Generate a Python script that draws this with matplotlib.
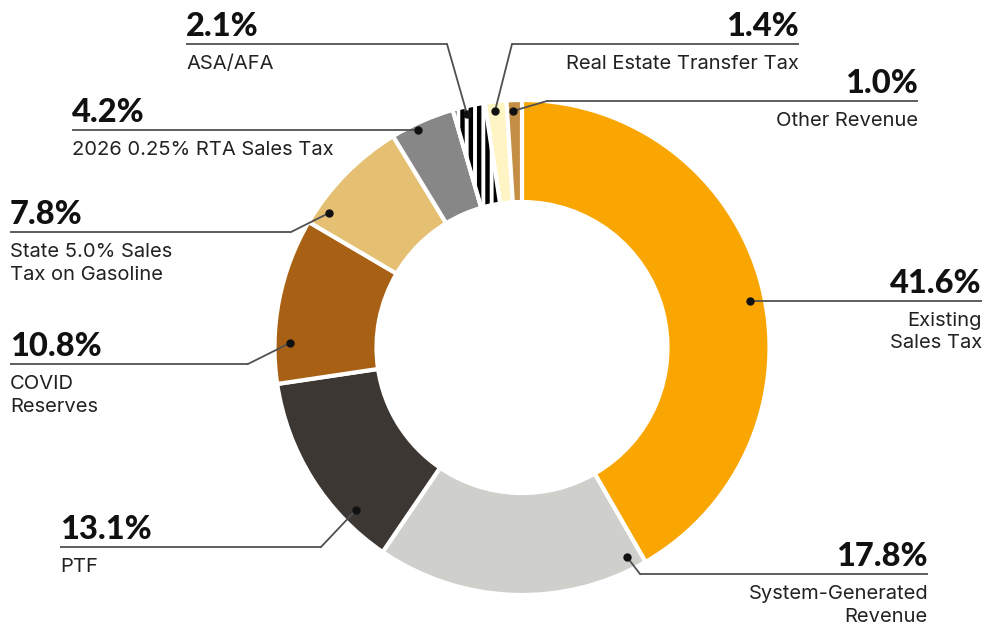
import matplotlib
matplotlib.use("Agg")
import matplotlib.pyplot as plt
from matplotlib.patches import Wedge
import numpy as np

categories = ["Existing\nSales Tax", "System-Generated\nRevenue", "PTF", "COVID\nReserves",
              "State 5.0% Sales\nTax on Gasoline", "2026 0.25% RTA Sales Tax", "ASA/AFA",
              "Real Estate Transfer Tax", "Other Revenue"]
values = [41.6, 17.8, 13.1, 10.8, 7.8, 4.2, 2.1, 1.4, 1.0]
pct_labels = ["41.6%", "17.8%", "13.1%", "10.8%", "7.8%", "4.2%", "2.1%", "1.4%", "1.0%"]
colors = ["#F9A602", "#CFCFCB", "#3D3733", "#A86114", "#E5C073", "#878787", "#FFFFFF",
          "#FFF4C4", "#C48E45"]

W, H = 991, 626
plt.rcParams['hatch.linewidth'] = 3.2
fig = plt.figure(figsize=(W / 100, H / 100), dpi=100)
ax = fig.add_axes([0, 0, 1, 1])

def Y(y):
    return H - y

CX, CY, R = 522, Y(347.5), 247.5
RING = 102

wedges, _ = ax.pie(values, colors=colors, startangle=90, counterclock=False,
                   center=(CX, CY), radius=R,
                   wedgeprops=dict(width=RING, edgecolor="white", linewidth=3))
# hatch for ASA/AFA
w = wedges[6]
hw = Wedge((CX, CY), R, w.theta1, w.theta2, width=RING, facecolor="white",
           edgecolor="black", hatch="||", linewidth=0, zorder=w.get_zorder() + 0.1)
ax.add_patch(hw)
ow = Wedge((CX, CY), R, w.theta1, w.theta2, width=RING, facecolor="none",
           edgecolor="white", linewidth=3, zorder=w.get_zorder() + 0.2)
ax.add_patch(ow)

ax.set_xlim(0, W)
ax.set_ylim(0, H)
ax.set_aspect("equal")
ax.axis("off")

NUMFONT = "Lato"
CATFONT = "Inter"
LC = "#505050"

# annotation layout in pixel coordinates (top-left origin)
layout = [
    dict(ly=301, x0=750, x1=982, ha="right", elbow=None, dot=(750, 301)),
    dict(ly=574, x0=640, x1=928, ha="right", elbow=640, dot=(627, 557)),
    dict(ly=547, x0=60, x1=321, ha="left", elbow=321, dot=(356, 510)),
    dict(ly=364, x0=10, x1=248, ha="left", elbow=248, dot=(290, 343)),
    dict(ly=232, x0=10, x1=291, ha="left", elbow=291, dot=(329, 213)),
    dict(ly=130, x0=72, x1=418, ha="left", elbow=None, dot=(418, 130)),
    dict(ly=44, x0=186, x1=447, ha="left", elbow=447, dot=(467, 114)),
    dict(ly=44, x0=512, x1=799, ha="right", elbow=512, dot=(495, 111)),
    dict(ly=101, x0=547, x1=918, ha="right", elbow=547, dot=(513, 111)),
]

for i, L in enumerate(layout):
    ly = Y(L["ly"])
    dx, dy = L["dot"][0], Y(L["dot"][1])
    ax.plot([L["x0"], L["x1"]], [ly, ly], color=LC, lw=1.3, solid_capstyle="butt", zorder=5)
    if L["elbow"] is not None:
        ax.plot([L["elbow"], dx], [ly, dy], color=LC, lw=1.3, zorder=5)
    ax.plot([dx], [dy], marker="o", ms=5, color="#111111", zorder=6)
    tx = L["x0"] if L["ha"] == "left" else L["x1"]
    ax.text(tx, ly + 8, pct_labels[i], ha=L["ha"], va="baseline", fontsize=23.5,
            fontweight="black", family=NUMFONT, color="#111111")
    for k, line in enumerate(categories[i].split("\n")):
        ax.text(tx, ly - 25 - 22.5 * k, line, ha=L["ha"], va="baseline", fontsize=14.5,
                family=CATFONT, color="#222222")

fig.savefig("out.png", dpi=100, facecolor="white")
